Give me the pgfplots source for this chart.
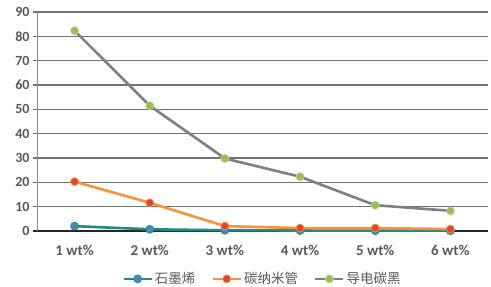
\documentclass[border=0pt]{standalone}
\usepackage{pgfplots}
\pgfplotsset{compat=1.18}
\usepackage{fontspec}
\setmainfont{Carlito}[BoldFont={Carlito Bold}]
\newfontfamily\cjk{Noto Sans CJK SC}
\definecolor{tealL}{HTML}{1E8C82}
\definecolor{blueM}{HTML}{4F86B9}
\definecolor{orangeL}{HTML}{F7923A}
\definecolor{redM}{HTML}{D34C38}
\definecolor{grayL}{HTML}{7F7F7F}
\definecolor{greenM}{HTML}{9BBB59}
\definecolor{txt}{HTML}{595959}
\begin{document}
\begin{tikzpicture}
\useasboundingbox (-37pt,-56pt) rectangle (454pt,231pt);
\begin{axis}[
  at={(0,0)}, anchor=south west,
  scale only axis, width=451pt, height=219pt,
  xmin=0.5, xmax=6.5, ymin=0, ymax=90,
  xtick={1,2,3,4,5,6},
  xticklabels={1 wt\%,2 wt\%,3 wt\%,4 wt\%,5 wt\%,6 wt\%},
  ytick={0,10,...,90},
  ymajorgrids, grid style={color=black!55, line width=1.1pt},
  xtick style={draw=none},
  ytick style={draw=black!55, line width=1.1pt},
  ytick pos=left, tick align=outside, major tick length=4pt,
  axis x line*=bottom, axis y line*=left,
  x axis line style={draw=black!85, line width=1.1pt, -, shorten <=-4pt},
  y axis line style={draw=black!45, line width=0.9pt, -},
  xticklabel style={font=\bfseries\fontsize{15}{17}\selectfont, text=txt, yshift=-7pt},
  yticklabel style={font=\bfseries\fontsize{14}{16}\selectfont, text=txt},
  /pgf/number format/assume math mode=true,
  legend style={at={(0.5,-0.17)}, anchor=north, draw=none, fill=none,
    legend columns=3, font=\fontsize{13.5}{15}\selectfont\cjk, text=txt,
    /tikz/every even column/.append style={column sep=14pt}},
  legend image code/.code={\draw[#1, mark repeat=2, mark phase=2] plot coordinates {(0pt,0pt) (14pt,0pt) (28pt,0pt)};},
]
\addplot[tealL, line width=2.6pt, mark=*, mark size=4pt, mark options={fill=blueM, draw=tealL, line width=0.7pt}]
  coordinates {(1,2.0) (2,0.7) (3,0.3) (4,0.2) (5,0.1) (6,0.1)};
\addlegendentry{石墨烯}
\addplot[orangeL, line width=2.6pt, mark=*, mark size=4pt, mark options={fill=redM, draw=orangeL, line width=0.7pt}]
  coordinates {(1,20.3) (2,11.6) (3,2.0) (4,1.2) (5,1.2) (6,0.8)};
\addlegendentry{碳纳米管}
\addplot[grayL, line width=2.6pt, mark=*, mark size=4pt, mark options={fill=greenM, draw=greenM!70!white, line width=0.7pt}]
  coordinates {(1,82.3) (2,51.5) (3,29.8) (4,22.3) (5,10.6) (6,8.3)};
\addlegendentry{导电碳黑}
\end{axis}
\end{tikzpicture}
\end{document}
